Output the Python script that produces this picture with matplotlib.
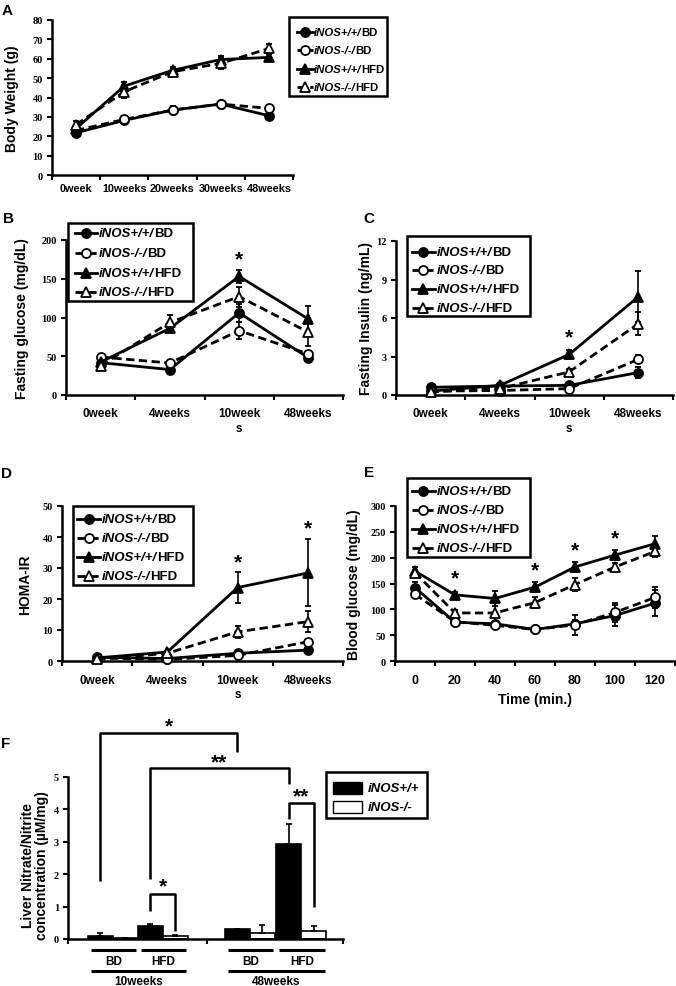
import numpy as np
import matplotlib
matplotlib.use('Agg')
import matplotlib.pyplot as plt
from matplotlib.lines import Line2D
from matplotlib.patches import Rectangle

plt.rcParams['font.family'] = ['Liberation Sans', 'DejaVu Sans']

W, H = 676, 987

# ---------------- data ----------------
group_prefix = ['iNOS+/+/', 'iNOS-/-/', 'iNOS+/+/', 'iNOS-/-/']
group_suffix = ['BD', 'BD', 'HFD', 'HFD']

# A: body weight
weeks_a = ['0week', '10weeks', '20weeks', '30weeks', '48weeks']
bw_wt_bd = [21.8, 28.2, 33.5, 36.6, 30.6]
bw_ko_bd = [23.0, 28.7, 33.5, 36.6, 34.4]
bw_wt_hfd = [24.0, 45.9, 54.0, 59.6, 60.7]
bw_ko_hfd = [26.0, 43.0, 53.3, 57.6, 65.3]
bw_wt_bd_err = [1.0, 1.5, 1.5, 1.5, 2.0]
bw_ko_bd_err = [1.0, 1.5, 2.0, 1.5, 1.0]
bw_wt_hfd_err = [1.5, 2.0, 2.0, 2.0, 1.5]
bw_ko_hfd_err = [2.0, 3.5, 2.0, 3.0, 2.5]

# B: fasting glucose
weeks_b = ['0week', '4weeks', '10week\ns', '48weeks']
glu_wt_bd = [41.7, 32.8, 106, 48]
glu_ko_bd = [49, 41.3, 83, 53]
glu_wt_hfd = [42.5, 86, 153, 98]
glu_ko_hfd = [38, 93.6, 127, 81]
glu_wt_bd_err = [3, 3, 12, 4]
glu_ko_bd_err = [3, 3, 11, 4]
glu_wt_hfd_err = [3, 4, 8, 17]
glu_ko_hfd_err = [3, 10, 13, 18]

# C: fasting insulin
ins_wt_bd = [0.6, 0.7, 0.75, 1.75]
ins_ko_bd = [0.3, 0.35, 0.5, 2.78]
ins_wt_hfd = [0.3, 0.75, 3.16, 7.66]
ins_ko_hfd = [0.25, 0.5, 1.8, 5.55]
ins_wt_bd_err = [0.1, 0.1, 0.1, 0.4]
ins_ko_bd_err = [0.1, 0.1, 0.1, 0.3]
ins_wt_hfd_err = [0.1, 0.1, 0.35, 2.0]
ins_ko_hfd_err = [0.1, 0.1, 0.2, 0.9]

# D: HOMA-IR
homa_wt_bd = [1.2, 0.8, 2.5, 3.5]
homa_ko_bd = [1.0, 0.5, 1.8, 6.2]
homa_wt_hfd = [1.0, 2.9, 23.7, 28.4]
homa_ko_hfd = [0.5, 2.5, 9.4, 12.7]
homa_wt_bd_err = [0.2, 0.2, 0.4, 0.6]
homa_ko_bd_err = [0.2, 0.2, 0.4, 0.6]
homa_wt_hfd_err = [0.2, 0.3, 5.0, 10.8]
homa_ko_hfd_err = [0.2, 0.3, 2.0, 3.5]

# E: glucose tolerance
time_e = ['0', '20', '40', '60', '80', '100', '120']
gtt_wt_bd = [142, 75, 72, 61, 72, 88, 112]
gtt_ko_bd = [129, 76, 69, 61, 70, 94, 123]
gtt_wt_hfd = [174, 128, 121, 143, 182, 205, 227]
gtt_ko_hfd = [171, 93, 93, 113, 148, 182, 212]
gtt_wt_bd_err = [10, 6, 6, 4, 8, 20, 25]
gtt_ko_bd_err = [6, 5, 5, 4, 20, 18, 20]
gtt_wt_hfd_err = [8, 6, 15, 10, 10, 10, 15]
gtt_ko_hfd_err = [6, 6, 20, 10, 12, 8, 10]

# F: liver nitrate/nitrite
f_groups = ['BD', 'HFD', 'BD', 'HFD']
f_periods = ['10weeks', '48weeks']
no_wt = [0.10, 0.40, 0.32, 2.92]
no_ko = [0.03, 0.10, 0.18, 0.25]
no_wt_err = [0.07, 0.05, 0.0, 0.63]
no_ko_err = [0.0, 0.02, 0.25, 0.15]

styles = [
    dict(marker='o', mfc='black', ls='-'),
    dict(marker='o', mfc='white', ls=(0, (3, 1.6))),
    dict(marker='^', mfc='black', ls='-'),
    dict(marker='^', mfc='white', ls=(0, (3, 1.6))),
]


def fx(px):
    return px / W


def fy(py):
    return 1 - py / H


def make_axes(fig, left, top, right, bottom):
    return fig.add_axes([fx(left), fy(bottom), (right - left) / W, (bottom - top) / H])


def style_axes(ax):
    for s in ['top', 'right']:
        ax.spines[s].set_visible(False)
    for s in ['left', 'bottom']:
        ax.spines[s].set_linewidth(1.8)
    ax.tick_params(axis='both', which='major', direction='out', width=1.5, length=3.5)
    ax.tick_params(axis='y', labelsize=7.5, pad=3)
    for t in ax.get_yticklabels():
        t.set_fontfamily('Liberation Serif')
        t.set_fontweight('bold')


def category_axis(ax, labels, fs=8.5, pad=7):
    n = len(labels)
    ax.set_xlim(-0.5, n - 0.5)
    ax.set_xticks(np.arange(n + 1) - 0.5)
    ax.set_xticklabels([])
    ax.set_xticks(np.arange(n), minor=True)
    ax.set_xticklabels(labels, minor=True, fontsize=fs, fontweight='bold', linespacing=1.3)
    ax.tick_params(axis='x', which='minor', length=0, pad=pad)


def plot_series(ax, series, errs):
    x = np.arange(len(series[0]))
    for vals, err, st in zip(series, errs, styles):
        ax.errorbar(x, vals, yerr=err, color='black', lw=2.0, ls=st['ls'],
                    marker=st['marker'], ms=6.5, mfc=st['mfc'], mec='black', mew=1.3,
                    elinewidth=1.2, capsize=2.5, capthick=1.2, clip_on=False, zorder=3)


def draw_legend(fig, box, rows, x_line, x_text, fs):
    x0, y0, x1, y1 = box
    fig.add_artist(Rectangle((fx(x0), fy(y1)), (x1 - x0) / W, (y1 - y0) / H,
                             transform=fig.transFigure, fill=False, lw=1.8, ec='black'))
    renderer = fig.canvas.get_renderer()
    for py, pre, suf, st in zip(rows, group_prefix, group_suffix, styles):
        xa, xb = x_line
        fig.add_artist(Line2D([fx(xa), fx((xa + xb) / 2), fx(xb)], [fy(py)] * 3,
                              transform=fig.transFigure, color='black', lw=2.0, ls=st['ls'],
                              marker=st['marker'], markevery=[1], ms=6.5, mfc=st['mfc'],
                              mec='black', mew=1.3))
        t = fig.text(fx(x_text), fy(py), pre, fontsize=fs, fontweight='bold',
                     style='italic', va='center', ha='left')
        bb = t.get_window_extent(renderer)
        fig.text(bb.x1 / fig.bbox.width, fy(py), suf, fontsize=fs, fontweight='bold',
                 va='center', ha='left')


def star(ax, x, y, s='*', fs=15):
    ax.text(x, y, s, ha='center', va='center', fontsize=fs, fontweight='bold', clip_on=False)


fig = plt.figure(figsize=(W / 100, H / 100), dpi=100)
fig.canvas.draw()

# ---- A ----
ax = make_axes(fig, 52, 21, 293, 176)
ax.set_ylim(0, 80)
ax.set_yticks(range(0, 81, 10))
style_axes(ax)
category_axis(ax, weeks_a, fs=7.8, pad=6)
plot_series(ax, [bw_wt_bd, bw_ko_bd, bw_wt_hfd, bw_ko_hfd],
            [bw_wt_bd_err, bw_ko_bd_err, bw_wt_hfd_err, bw_ko_hfd_err])
ax.set_ylabel('Body Weight (g)', fontsize=10, fontweight='bold')
ax.yaxis.set_label_coords(-0.137, 0.5)
draw_legend(fig, (289, 18, 387, 97), [33, 51, 70, 88], (297, 313), 314, 8.2)
fig.text(fx(2), fy(11), 'A', fontsize=11, fontweight='bold', va='center')

# ---- B ----
ax = make_axes(fig, 66, 241, 343, 396)
ax.set_ylim(0, 200)
ax.set_yticks([0, 50, 100, 150, 200])
style_axes(ax)
category_axis(ax, weeks_b, fs=8.5, pad=9)
plot_series(ax, [glu_wt_bd, glu_ko_bd, glu_wt_hfd, glu_ko_hfd],
            [glu_wt_bd_err, glu_ko_bd_err, glu_wt_hfd_err, glu_ko_hfd_err])
star(ax, 2, 176)
ax.set_ylabel('Fasting glucose (mg/dL)', fontsize=10, fontweight='bold')
ax.yaxis.set_label_coords(-0.134, 0.5)
draw_legend(fig, (68, 224, 193, 302), [234, 254, 274, 293], (75, 97), 99, 9.5)
fig.text(fx(3), fy(219), 'B', fontsize=11, fontweight='bold', va='center')

# ---- C ----
ax = make_axes(fig, 396, 242, 673, 396)
ax.set_ylim(0, 12)
ax.set_yticks([0, 3, 6, 9, 12])
style_axes(ax)
category_axis(ax, weeks_b, fs=8.5, pad=9)
plot_series(ax, [ins_wt_bd, ins_ko_bd, ins_wt_hfd, ins_ko_hfd],
            [ins_wt_bd_err, ins_ko_bd_err, ins_wt_hfd_err, ins_ko_hfd_err])
star(ax, 2, 4.5)
ax.set_ylabel('Fasting Insulin (ng/mL)', fontsize=10, fontweight='bold')
ax.yaxis.set_label_coords(-0.083, 0.5)
draw_legend(fig, (407, 237, 530, 317), [253, 271, 290, 309], (412, 435), 437, 9.5)
fig.text(fx(363), fy(219), 'C', fontsize=11, fontweight='bold', va='center')

# ---- D ----
ax = make_axes(fig, 62, 507, 343, 662)
ax.set_ylim(0, 50)
ax.set_yticks(range(0, 51, 10))
style_axes(ax)
category_axis(ax, weeks_b, fs=8.5, pad=9)
plot_series(ax, [homa_wt_bd, homa_ko_bd, homa_wt_hfd, homa_ko_hfd],
            [homa_wt_bd_err, homa_ko_bd_err, homa_wt_hfd_err, homa_ko_hfd_err])
star(ax, 2, 32.0)
star(ax, 3, 43.0)
ax.set_ylabel('HOMA-IR', fontsize=10, fontweight='bold')
ax.yaxis.set_label_coords(-0.107, 0.5)
draw_legend(fig, (73, 507, 193, 586), [520, 539, 558, 577], (77, 100), 102, 9.5)
fig.text(fx(1), fy(474), 'D', fontsize=11, fontweight='bold', va='center')

# ---- E ----
ax = make_axes(fig, 395, 507, 675, 662)
ax.set_ylim(0, 300)
ax.set_yticks(range(0, 301, 50))
style_axes(ax)
category_axis(ax, time_e, fs=9, pad=9)
plot_series(ax, [gtt_wt_bd, gtt_ko_bd, gtt_wt_hfd, gtt_ko_hfd],
            [gtt_wt_bd_err, gtt_ko_bd_err, gtt_wt_hfd_err, gtt_ko_hfd_err])
for xi, yi in zip([1, 3, 4, 5], [160, 176, 215, 238]):
    star(ax, xi, yi)
ax.set_ylabel('Blood glucose (mg/dL)', fontsize=10, fontweight='bold')
ax.yaxis.set_label_coords(-0.121, 0.5)
ax.set_xlabel('Time (min.)', fontsize=10, fontweight='bold', labelpad=5)
draw_legend(fig, (407, 479, 530, 558), [492, 511, 530, 549], (412, 435), 437, 9.5)
fig.text(fx(364), fy(473), 'E', fontsize=11, fontweight='bold', va='center')

# ---- F ----
ax = make_axes(fig, 68, 778, 343, 940)
ax.set_ylim(0, 5)
ax.set_yticks(range(0, 6))
ax.set_xlim(0, 11)
style_axes(ax)
ax.set_xticks([0, 5.56, 11])
ax.set_xticklabels([])
pos_wt = np.array([1.28, 3.28, 6.76, 8.82])
pos_ko = pos_wt + 1.0
ax.bar(pos_wt, no_wt, width=1.0, color='black', edgecolor='black', lw=1.2,
       yerr=[np.zeros(4), no_wt_err], error_kw=dict(elinewidth=1.2, capsize=2.5, capthick=1.2))
ax.bar(pos_ko, no_ko, width=1.0, color='white', edgecolor='black', lw=1.2,
       yerr=[np.zeros(4), no_ko_err], error_kw=dict(elinewidth=1.2, capsize=2.5, capthick=1.2))

kw = dict(color='black', lw=1.8, clip_on=False, solid_capstyle='butt')
# significance brackets
ax.plot([pos_wt[0], pos_wt[0], pos_wt[2], pos_wt[2]], [1.79, 6.36, 6.36, 5.77], **kw)
star(ax, (pos_wt[0] + pos_wt[2]) / 2, 6.57)
ax.plot([pos_wt[1], pos_wt[1], pos_wt[3], pos_wt[3]], [1.85, 5.28, 5.28, 4.78], **kw)
star(ax, (pos_wt[1] + pos_wt[3]) / 2, 5.47, '**')
ax.plot([pos_wt[1], pos_wt[1], pos_ko[1], pos_ko[1]], [0.86, 1.39, 1.39, 0.25], **kw)
star(ax, (pos_wt[1] + pos_ko[1]) / 2, 1.64)
ax.plot([pos_wt[3], pos_wt[3], pos_ko[3], pos_ko[3]], [3.70, 4.20, 4.20, 0.99], **kw)
star(ax, (pos_wt[3] + pos_ko[3]) / 2, 4.42, '**')

# group labels below axis
lkw = dict(color='black', lw=2.2, clip_on=False, solid_capstyle='butt')
for i, g in enumerate(f_groups):
    a, b = pos_wt[i] - 0.38, pos_ko[i] + 0.45
    ax.plot([a, b], [-0.34, -0.34], **lkw)
    ax.text((a + b) / 2, -0.68, g, ha='center', va='center', fontsize=8.5, fontweight='bold')
for j, p in enumerate(f_periods):
    a, b = pos_wt[2 * j] - 0.38, pos_ko[2 * j + 1] + 0.45
    ax.plot([a, b], [-0.99, -0.99], **lkw)
    ax.text((a + b) / 2, -1.31, p, ha='center', va='center', fontsize=8.5, fontweight='bold')

ax.set_ylabel('Liver Nitrate/Nitrite\nconcentration (\u00b5M/mg)', fontsize=10,
              fontweight='bold', linespacing=1.0)
ax.yaxis.set_label_coords(-0.07, 0.46)
fig.text(fx(1), fy(744), 'F', fontsize=11, fontweight='bold', va='center')

# F legend
fig.add_artist(Rectangle((fx(326), fy(819)), 101 / W, 46 / H, transform=fig.transFigure,
                         fill=False, lw=1.8, ec='black'))
for py, fc, lab in [(789, 'black', 'iNOS+/+'), (808, 'white', 'iNOS-/-')]:
    fig.add_artist(Rectangle((fx(333), fy(py + 6)), 29 / W, 12 / H, transform=fig.transFigure,
                             fc=fc, ec='black', lw=1.0))
    fig.text(fx(368), fy(py), lab, fontsize=9.5, fontweight='bold', style='italic', va='center')

fig.savefig('out.png', dpi=100)
